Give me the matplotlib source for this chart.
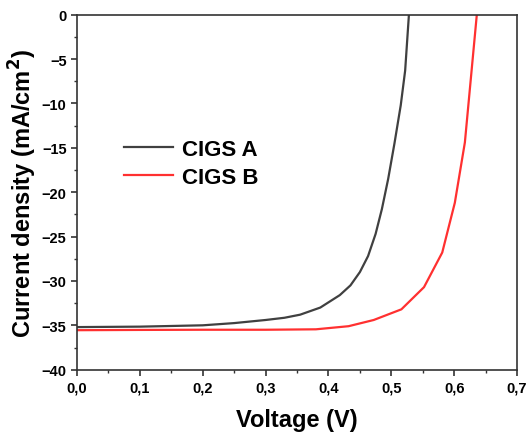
import matplotlib.pyplot as plt
from matplotlib.ticker import MultipleLocator, FuncFormatter

# J-V data
v_a = [0.0, 0.10, 0.20, 0.25, 0.30, 0.33, 0.355, 0.387, 0.418, 0.435, 0.450,
       0.463, 0.475, 0.485, 0.495, 0.505, 0.515, 0.522, 0.528]
j_a = [-35.2, -35.15, -35.0, -34.75, -34.4, -34.15, -33.8, -33.0, -31.6,
       -30.5, -29.0, -27.2, -24.7, -21.9, -18.5, -14.5, -10.2, -6.3, 0.0]

v_b = [0.0, 0.10, 0.20, 0.30, 0.38, 0.432, 0.472, 0.516, 0.552, 0.581,
       0.601, 0.617, 0.636]
j_b = [-35.55, -35.52, -35.5, -35.5, -35.45, -35.1, -34.4, -33.2, -30.7,
       -26.8, -21.2, -14.4, 0.0]

labels = ["CIGS A", "CIGS B"]
colors = ["#404040", "#ff3030"]

plt.rcParams["font.family"] = ["Liberation Sans", "DejaVu Sans"]
plt.rcParams["font.weight"] = "bold"

fig = plt.figure(figsize=(5.29, 4.39), dpi=100)
ax = fig.add_axes([0.1456, 0.1556, 0.8318, 0.8087])

ax.plot(v_a, j_a, color=colors[0], lw=1.6, label=labels[0])
ax.plot(v_b, j_b, color=colors[1], lw=1.6, label=labels[1])

ax.set_xlim(0, 0.7)
ax.set_ylim(-40, 0)
ax.xaxis.set_major_locator(MultipleLocator(0.1))
ax.xaxis.set_minor_locator(MultipleLocator(0.05))
ax.yaxis.set_major_locator(MultipleLocator(5))
ax.yaxis.set_minor_locator(MultipleLocator(2.5))
ax.xaxis.set_major_formatter(FuncFormatter(lambda x, p: f"{x:.1f}".replace(".", ",")))
ax.yaxis.set_major_formatter(FuncFormatter(lambda y, p: f"{y:.0f}".replace("-", "\u2212")))

ax.tick_params(which="major", direction="out", length=4, width=1.2, labelsize=10.5,
               color="#333333")
ax.tick_params(which="minor", direction="out", length=2.5, width=1.0, color="#333333")
for lab in ax.get_xticklabels() + ax.get_yticklabels():
    lab.set_fontweight("bold")
for s in ax.spines.values():
    s.set_linewidth(1.2)
    s.set_color("#333333")

ax.set_xlabel("Voltage (V)", fontsize=17, fontweight="bold", labelpad=10)
ax.set_ylabel("Current density (mA/cm$^{\\mathbf{2}}$)", fontsize=17, fontweight="bold",
              labelpad=2)

ax.legend(loc="upper left", bbox_to_anchor=(0.087, 0.675), frameon=False,
          prop={"size": 16, "weight": "bold"}, handlelength=2.2, handletextpad=0.4,
          labelspacing=0.3, borderaxespad=0.0)

fig.savefig("out.png", dpi=100)
